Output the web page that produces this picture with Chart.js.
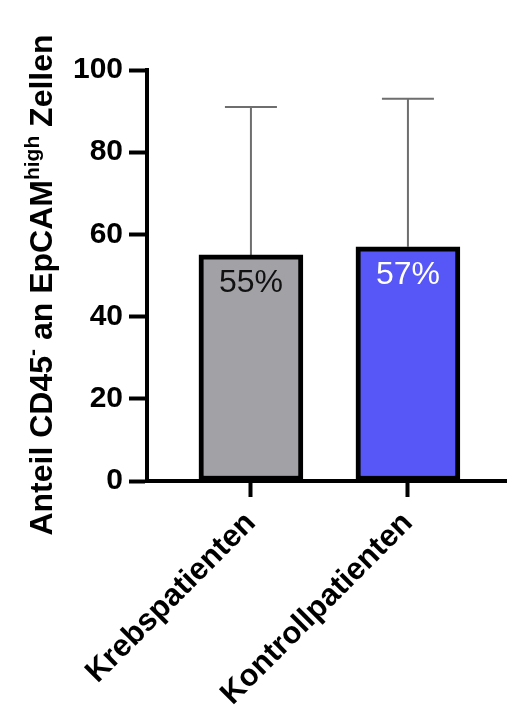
<!DOCTYPE html>
<html>
<head>
<meta charset="utf-8">
<script src="https://cdn.jsdelivr.net/npm/chart.js@4.4.0/dist/chart.umd.min.js"></script>
<style>
  html, body { margin: 0; padding: 0; background: #fff; overflow: hidden; }
  #wrap { width: 507px; height: 705px; position: relative; }
  canvas { display: block; }
</style>
</head>
<body>
<div id="wrap"><canvas id="chart"></canvas></div>
<script>
// data
const groups = ['Krebspatienten', 'Kontrollpatienten'];
const groupPos = [1, 2];
const means = [55, 57];
const upperErr = [91, 93];
const barLabels = ['55%', '57%'];
const yTicks = [0, 20, 40, 60, 80, 100];

const barColors = ['#a2a1a6', '#5757f8'];
const labelColors = ['#111', '#fff'];
const FONT = '"Liberation Sans", Arial, Helvetica, sans-serif';

// y title with superscripts: [text, isSuperscript]
const titleParts = [
    ['Anteil CD45', false],
    ['-', true],
    [' an EpCAM', false],
    ['high', true],
    [' Zellen', false]
];

const errorBars = {
    id: 'errorBars',
    beforeDatasetsDraw(chart) {
        const ctx = chart.ctx;
        const y = chart.scales.y;
        const meta = chart.getDatasetMeta(0);
        ctx.save();
        ctx.strokeStyle = '#6e6e6e';
        ctx.lineWidth = 2;
        meta.data.forEach((bar, i) => {
            const top = y.getPixelForValue(upperErr[i]);
            ctx.beginPath();
            ctx.moveTo(bar.x, bar.y);
            ctx.lineTo(bar.x, top);
            ctx.moveTo(bar.x - 26, top);
            ctx.lineTo(bar.x + 26, top);
            ctx.stroke();
        });
        ctx.restore();
    }
};

const barText = {
    id: 'barText',
    afterDatasetsDraw(chart) {
        const ctx = chart.ctx;
        const meta = chart.getDatasetMeta(0);
        ctx.save();
        ctx.font = '32px ' + FONT;
        ctx.textAlign = 'center';
        ctx.textBaseline = 'alphabetic';
        meta.data.forEach((bar, i) => {
            ctx.fillStyle = labelColors[i];
            ctx.fillText(barLabels[i], bar.x, bar.y + 37);
        });
        ctx.restore();
    }
};

const yTitle = {
    id: 'yTitle',
    afterDraw(chart) {
        const ctx = chart.ctx;
        const big = 'bold 32px ' + FONT;
        const small = 'bold 21px ' + FONT;
        let total = 0;
        titleParts.forEach(([t, sup]) => {
            ctx.font = sup ? small : big;
            total += ctx.measureText(t).width;
        });
        const cy = 285;
        ctx.save();
        ctx.translate(52, cy);
        ctx.rotate(-Math.PI / 2);
        ctx.fillStyle = '#000';
        ctx.textBaseline = 'alphabetic';
        ctx.textAlign = 'left';
        let x = -total / 2;
        titleParts.forEach(([t, sup]) => {
            ctx.font = sup ? small : big;
            ctx.fillText(t, x, sup ? -13 : 0);
            x += ctx.measureText(t).width;
        });
        ctx.restore();
    }
};

new Chart(document.getElementById('chart'), {
    type: 'bar',
    data: {
        datasets: [{
            data: groupPos.map((x, i) => ({ x: x, y: means[i] })),
            backgroundColor: barColors,
            borderColor: '#000',
            borderWidth: 5,
            borderSkipped: false,
            barThickness: 104
        }]
    },
    options: {
        responsive: true,
        maintainAspectRatio: false,
        animation: false,
        layout: { padding: { top: 70, left: 0, right: 0, bottom: 0 } },
        plugins: { legend: { display: false }, tooltip: { enabled: false } },
        scales: {
            x: {
                type: 'linear',
                offset: false,
                min: 0.338,
                max: 2.631,
                afterBuildTicks: s => { s.ticks = groupPos.map(v => ({ value: v })); },
                afterFit: s => {
                    s.height = 224;
                    s.paddingLeft = 0;
                    s.paddingRight = 0;
                },
                border: { color: '#000', width: 4 },
                grid: { offset: false, drawOnChartArea: false, tickLength: 16, tickWidth: 4, tickColor: '#000' },
                ticks: {
                    autoSkip: false,
                    minRotation: 45,
                    maxRotation: 45,
                    padding: 8,
                    color: '#000',
                    font: { size: 31, weight: 'bold', family: FONT },
                    callback: v => groups[groupPos.indexOf(v)]
                }
            },
            y: {
                min: 0,
                max: 100,
                afterBuildTicks: s => { s.ticks = yTicks.map(v => ({ value: v })); },
                afterFit: s => { s.width = 147; },
                border: { color: '#000', width: 4 },
                grid: { drawOnChartArea: false, tickLength: 18, tickWidth: 4, tickColor: '#000' },
                ticks: {
                    padding: 6,
                    color: '#000',
                    font: { size: 30, weight: 'bold', family: FONT }
                }
            }
        }
    },
    plugins: [errorBars, barText, yTitle]
});
</script>
</body>
</html>
